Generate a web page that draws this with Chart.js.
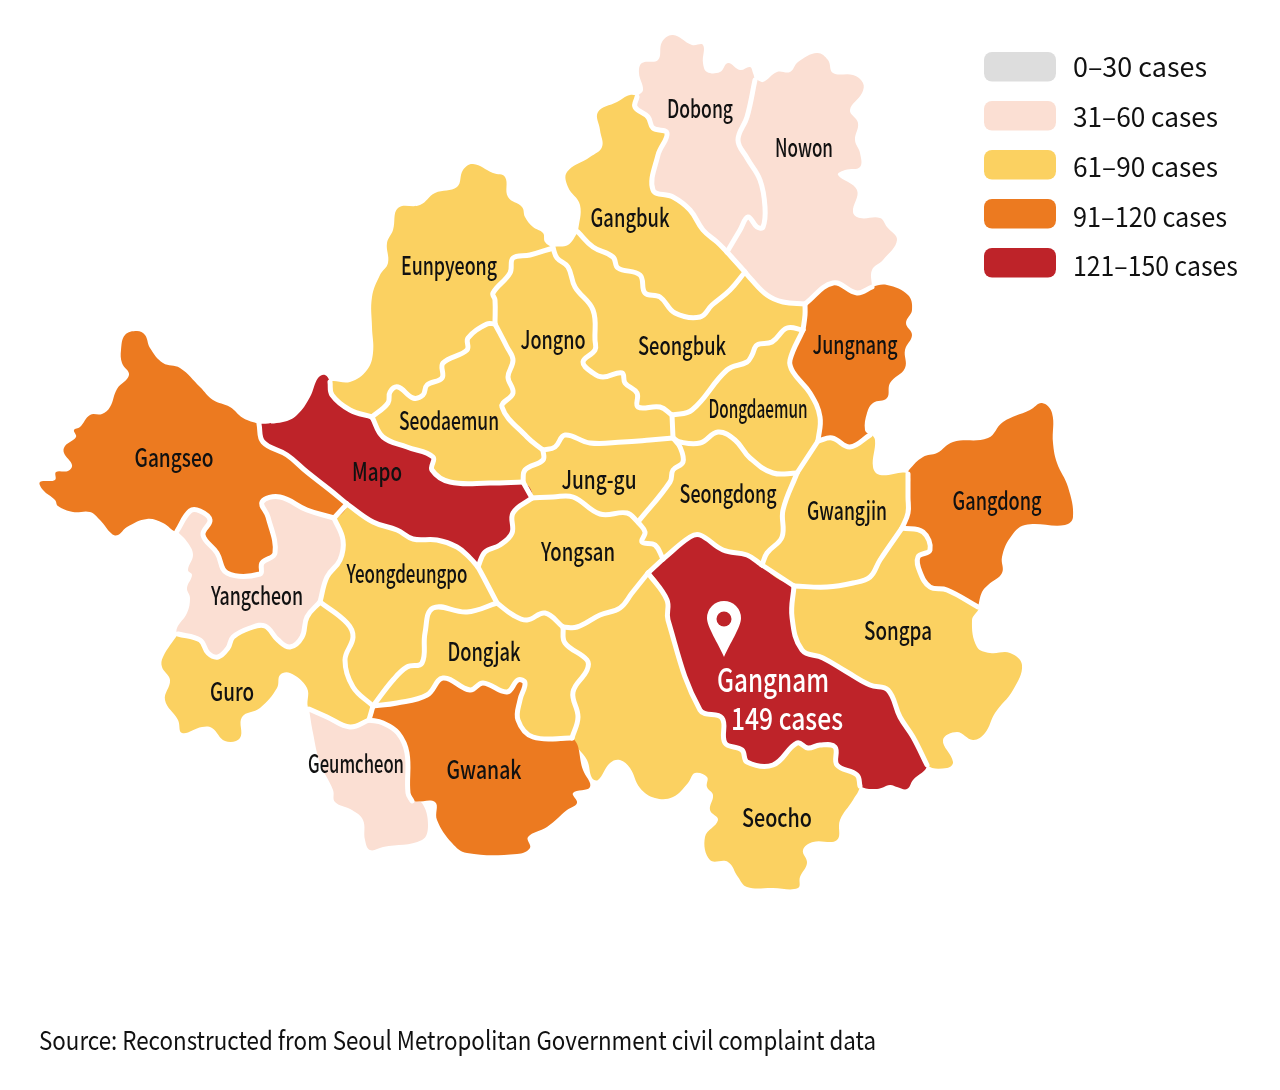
<!DOCTYPE html>
<html>
<head>
<meta charset="utf-8">
<title>Seoul civil complaints by district</title>
<script src="https://cdn.jsdelivr.net/npm/chart.js@4"></script>
<style>
  html, body { margin: 0; padding: 0; background: #fff; }
  canvas { display: block; }
</style>
</head>
<body>
<canvas id="seoulMap" width="1280" height="1090"></canvas>
<script>
// legend bands
const bandLabels = ['0–30 cases', '31–60 cases', '61–90 cases', '91–120 cases', '121–150 cases'];
const bandColors = ['#DDDDDD', '#FBDFD3', '#FBD161', '#EC7A20', '#BE2329'];

// district names and the band each one falls in
const districtNames = ['Dobong', 'Nowon', 'Gangbuk', 'Eunpyeong', 'Jongno', 'Seongbuk', 'Jungnang', 'Seodaemun', 'Dongdaemun', 'Gangseo', 'Mapo', 'Jung-gu', 'Seongdong', 'Gwangjin', 'Gangdong', 'Yongsan', 'Yangcheon', 'Yeongdeungpo', 'Songpa', 'Dongjak', 'Guro', 'Geumcheon', 'Gwanak', 'Seocho', 'Gangnam'];
const districtBands = [1, 1, 2, 2, 2, 2, 3, 2, 2, 3, 4, 2, 2, 2, 3, 2, 1, 2, 2, 2, 2, 1, 3, 2, 4];
const labelX = [700, 804, 630, 449, 553, 682, 855, 449, 758, 174, 377, 599, 728, 847, 997, 578, 257, 407, 898, 484, 232, 356, 484, 777, 773];
const labelY = [108, 147, 217, 265, 339, 345, 344, 420, 408, 457, 471, 479, 493, 510, 500, 551, 595, 573, 630, 651, 691, 763, 769, 817, 679];
const labelW = [66, 58, 79, 96, 65, 88, 85, 100, 99, 79, 50, 75, 97, 80, 89, 74, 92, 121, 68, 73, 44, 96, 75, 70, 112];

const highlightCases = '149 cases';
const sourceText = 'Source: Reconstructed from Seoul Metropolitan Government civil complaint data';

// boundary pieces, each shared by the districts on either side
const gangseoNorth = [[259,424],[243,418],[230,407],[213,400],[200,387],[180,368],[163,363],[150,348],[145,335],[137,331],[125,335],[121,350],[122,363],[129,375],[117,389],[110,407],[102,414],[90,415],[80,427],[74,430],[76,437],[65,446],[64,453],[72,465],[68,471],[56,472],[55,480],[40,482],[43,490],[55,500],[58,506],[73,512],[90,512],[100,520],[112,534],[118,535],[127,527],[147,519],[163,523],[177,531]];
const gangseoYangcheon = [[177,531],[190,511],[200,511],[210,520],[203,535],[217,553],[227,573],[260,574],[262,563],[275,553],[268,517],[262,502],[280,497],[307,510],[334,518]];
const gangseoYeongdeungpo = [[334,518],[347,504]];
const gangseoMapo = [[347,504],[330,490],[307,472],[287,455],[263,442],[259,424]];
const mapoNorth = [[259,424],[283,422],[297,415],[310,397],[318,378],[325,375],[330,382]];
const mapoEunpyeong = [[330,382],[332,395],[350,410],[372,417]];
const mapoSeodaemun = [[372,417],[383,437],[407,447],[433,457],[432,470],[450,482],[490,483],[523,482]];
const mapoJunggu = [[523,482],[532,498]];
const mapoYongsan = [[532,498],[513,513],[512,533],[500,545],[485,552],[478,567]];
const mapoYeongdeungpo = [[478,567],[470,558],[457,547],[437,540],[413,539],[397,530],[373,522],[347,504]];
const yangcheonYeongdeungpo = [[334,518],[343,540],[340,560],[327,577],[320,602]];
const yangcheonGuro = [[320,602],[307,617],[302,637],[290,647],[278,640],[265,626],[250,628],[233,637],[228,648],[218,657],[208,653],[200,640],[178,634]];
const yangcheonWest = [[178,634],[177,628],[187,613],[190,598],[187,588],[192,575],[188,570],[193,555],[188,543],[177,531]];
const guroOuter = [[178,634],[163,657],[162,667],[170,680],[165,700],[178,720],[182,733],[202,727],[212,728],[225,741],[240,738],[242,717],[260,708],[277,688],[280,675],[290,673],[307,688],[309,709]];
const guroGeumcheon = [[309,709],[327,717],[350,727],[369,720]];
const guroGwanak = [[369,720],[373,706]];
const guroYeongdeungpo = [[373,706],[353,687],[345,660],[353,637],[347,623],[320,602]];
const yeongdeungpoDongjak = [[373,706],[393,680],[407,667],[422,663],[425,633],[433,608],[467,612],[497,603]];
const yeongdeungpoYongsan = [[497,603],[485,580],[478,567]];
const dongjakYongsan = [[497,603],[513,615],[527,620],[545,613],[563,627]];
const dongjakSeocho = [[563,627],[565,643],[587,660],[587,670],[573,692],[578,717],[572,738]];
const dongjakGwanak = [[572,738],[533,737],[518,720],[520,700],[525,683],[518,680],[507,692],[483,683],[470,690],[443,678],[427,695],[397,703],[373,706]];
const gwanakGeumcheon = [[369,720],[383,723],[398,733],[407,753],[408,793],[412,801]];
const gwanakOuter = [[412,801],[435,802],[437,820],[452,843],[467,853],[517,854],[530,848],[528,837],[547,827],[567,810],[577,803],[573,793],[590,787],[583,770],[572,738]];
const geumcheonOuter = [[412,801],[422,803],[428,825],[422,840],[383,847],[370,850],[365,840],[363,820],[352,810],[335,802],[333,790],[320,763],[313,733],[309,709]];
const seochoOuter = [[572,738],[587,760],[592,778],[598,780],[610,763],[620,760],[630,768],[640,788],[655,798],[673,797],[688,783],[695,773],[707,777],[707,787],[713,795],[710,810],[718,820],[705,837],[710,860],[728,862],[738,877],[747,887],[773,888],[798,888],[800,877],[807,863],[803,850],[813,842],[837,840],[840,820],[853,800],[860,786]];
const gangnamSeocho = [[860,786],[857,775],[837,765],[835,747],[820,745],[808,748],[797,743],[773,765],[747,762],[742,750],[725,743],[722,718],[700,710],[668,620],[667,600],[648,573]];
const yongsanSeocho = [[563,627],[577,627],[600,615],[620,608],[632,593],[648,573]];
const yongsanGangnam = [[648,573],[663,559]];
const seongdongGangnam = [[663,559],[690,537],[700,535],[723,550],[747,555],[762,565]];
const gwangjinGangnam = [[762,565],[794,586]];
const songpaGangnam = [[794,586],[792,617],[802,650],[823,658],[847,672],[870,685],[888,690],[900,717],[913,737],[927,765]];
const gangnamOuter = [[927,765],[913,780],[907,789],[897,787],[890,785],[877,789],[860,786]];
const gwangjinSongpa = [[794,586],[827,587],[853,583],[870,577],[880,560],[902,528]];
const songpaGangdong = [[902,528],[923,532],[930,550],[918,557],[920,572],[930,587],[947,590],[978,607]];
const songpaOuter = [[978,607],[972,620],[977,647],[990,653],[1010,653],[1022,665],[1013,690],[995,713],[985,733],[973,740],[957,732],[943,740],[953,762],[947,768],[927,765]];
const gangdongOuter = [[978,607],[982,592],[988,585],[1002,573],[1002,557],[1010,538],[1025,525],[1065,525],[1073,517],[1068,487],[1057,463],[1053,443],[1052,413],[1042,403],[1030,410],[1003,422],[988,438],[953,442],[937,453],[923,457],[909,470],[908,474]];
const gangdongGwangjin = [[908,474],[908,497],[908,513],[902,528]];
const gwangjinOuter = [[908,474],[880,475],[873,467],[875,440],[870,435]];
const gwangjinJungnang = [[870,435],[850,447],[832,438],[818,441]];
const jungnangOuter = [[870,435],[865,430],[867,413],[873,403],[887,398],[890,383],[905,368],[905,350],[912,335],[906,323],[912,310],[908,295],[887,285],[872,287]];
const jungnangNowon = [[872,287],[857,293],[833,283],[805,304]];
const jungnangSeongbuk = [[805,304],[805,315],[803,330]];
const jungnangDongdaemun = [[803,330],[790,360],[793,372],[810,393],[820,417],[818,441]];
const dongdaemunGwangjin = [[818,441],[797,473]];
const seongdongGwangjin = [[797,473],[783,510],[782,537],[767,553],[762,565]];
const dongdaemunSeongdong = [[673,438],[680,442],[700,443],[718,432],[735,440],[750,458],[773,473],[797,473]];
const seongbukDongdaemun = [[672,415],[692,410],[727,370],[747,362],[752,355],[757,345],[772,342],[787,328],[803,330]];
const jongnoDongdaemun = [[672,415],[673,438]];
const jongnoSeongbuk = [[553,248],[557,258],[568,267],[575,287],[593,310],[595,340],[595,350],[583,362],[593,373],[603,377],[622,373],[625,383],[637,393],[638,407],[660,407],[672,415]];
const seongbukNowon = [[745,272],[750,278],[767,295],[783,302],[805,304]];
const gangbukNowon = [[727,252],[745,272]];
const gangbukSeongbuk = [[578,232],[593,247],[613,257],[618,268],[640,275],[645,293],[660,297],[675,313],[700,317],[712,305],[730,290],[745,272]];
const seongbukWest = [[578,232],[568,245],[553,248]];
const eunpyeongOuter = [[553,248],[545,242],[543,233],[533,227],[525,217],[522,207],[508,197],[505,177],[493,173],[473,164],[463,170],[457,187],[435,193],[420,205],[398,208],[393,230],[387,243],[388,263],[380,275],[372,297],[372,327],[373,353],[367,370],[350,382],[330,382]];
const eunpyeongJongno = [[495,324],[495,300],[493,293],[510,273],[513,258],[530,255],[553,248]];
const eunpyeongSeodaemun = [[372,417],[388,403],[390,392],[398,387],[413,398],[423,395],[427,385],[442,378],[443,363],[467,350],[468,338],[487,324],[495,324]];
const jongnoSeodaemun = [[495,324],[507,347],[513,360],[508,377],[513,393],[502,407],[527,437],[543,450]];
const jongnoJunggu = [[673,438],[650,440],[623,442],[590,443],[565,435],[555,447],[543,450]];
const seodaemunJunggu = [[543,450],[543,460],[525,470],[523,482]];
const jungguYongsan = [[532,498],[553,497],[573,497],[600,514],[627,513],[638,522]];
const jungguSeongdong = [[638,522],[670,482],[673,470],[683,462],[680,447],[673,438]];
const yongsanSeongdong = [[638,522],[645,532],[642,542],[655,545],[663,559]];
const gangbukOuter = [[637,97],[630,95],[617,102],[598,112],[600,130],[602,147],[590,157],[567,172],[568,187],[580,205],[578,232]];
const dobongGangbuk = [[637,97],[635,107],[648,117],[653,128],[667,133],[658,155],[653,190],[673,197],[690,210],[703,230],[717,242],[727,252]];
const dobongOuter = [[755,80],[753,73],[750,67],[740,70],[728,63],[720,72],[707,72],[703,63],[703,45],[692,45],[673,35],[662,42],[658,60],[642,63],[639,73],[643,90],[637,97]];
const dobongNowon = [[755,80],[747,117],[738,140],[747,158],[760,180],[765,207],[763,227],[757,227],[748,217],[740,230],[727,252]];
const nowonOuter = [[872,287],[872,270],[883,260],[897,240],[887,227],[880,218],[860,218],[853,212],[857,190],[838,175],[845,170],[860,167],[860,153],[855,140],[858,123],[850,110],[862,93],[863,83],[853,75],[833,73],[828,60],[817,53],[798,62],[790,72],[777,72],[763,82],[755,80]];

const rev = arc => arc.slice().reverse();

const toPoints = arc => arc.map(p => ({ x: p[0], y: p[1] }));

// walk the pieces of one district into a closed outline
function ring(...arcs) {
    const points = [];
    arcs.forEach(arc => {
        arc.forEach((p, i) => {
            if (i > 0 || points.length === 0) points.push({ x: p[0], y: p[1] });
        });
    });
    return points;
}

const outlines = {
    Dobong: ring(dobongOuter, dobongGangbuk, rev(dobongNowon)),
    Nowon: ring(nowonOuter, dobongNowon, gangbukNowon, seongbukNowon, rev(jungnangNowon)),
    Gangbuk: ring(gangbukSeongbuk, rev(gangbukNowon), rev(dobongGangbuk), gangbukOuter),
    Eunpyeong: ring(eunpyeongOuter, mapoEunpyeong, eunpyeongSeodaemun, eunpyeongJongno),
    Jongno: ring(rev(eunpyeongJongno), jongnoSeodaemun, rev(jongnoJunggu), rev(jongnoDongdaemun), rev(jongnoSeongbuk)),
    Seongbuk: ring(seongbukWest, jongnoSeongbuk, seongbukDongdaemun, rev(jungnangSeongbuk), rev(seongbukNowon), rev(gangbukSeongbuk)),
    Jungnang: ring(jungnangOuter, jungnangNowon, jungnangSeongbuk, jungnangDongdaemun, rev(gwangjinJungnang)),
    Seodaemun: ring(eunpyeongSeodaemun, jongnoSeodaemun, seodaemunJunggu, rev(mapoSeodaemun)),
    Dongdaemun: ring(seongbukDongdaemun, jungnangDongdaemun, dongdaemunGwangjin, rev(dongdaemunSeongdong), rev(jongnoDongdaemun)),
    Gangseo: ring(gangseoNorth, gangseoYangcheon, gangseoYeongdeungpo, gangseoMapo),
    Mapo: ring(mapoNorth, mapoEunpyeong, mapoSeodaemun, mapoJunggu, mapoYongsan, mapoYeongdeungpo, gangseoMapo),
    'Jung-gu': ring(jungguSeongdong, jongnoJunggu, seodaemunJunggu, mapoJunggu, jungguYongsan),
    Seongdong: ring(dongdaemunSeongdong, seongdongGwangjin, rev(seongdongGangnam), rev(yongsanSeongdong), jungguSeongdong),
    Gwangjin: ring(seongdongGwangjin, gwangjinGangnam, gwangjinSongpa, rev(gangdongGwangjin), gwangjinOuter, gwangjinJungnang, dongdaemunGwangjin),
    Gangdong: ring(rev(songpaGangdong), rev(gangdongGwangjin), rev(gangdongOuter)),
    Yongsan: ring(jungguYongsan, yongsanSeongdong, rev(yongsanGangnam), rev(yongsanSeocho), rev(dongjakYongsan), yeongdeungpoYongsan, rev(mapoYongsan)),
    Yangcheon: ring(gangseoYangcheon, yangcheonYeongdeungpo, yangcheonGuro, yangcheonWest),
    Yeongdeungpo: ring(gangseoYeongdeungpo, rev(mapoYeongdeungpo), rev(yeongdeungpoYongsan), rev(yeongdeungpoDongjak), guroYeongdeungpo, rev(yangcheonYeongdeungpo)),
    Songpa: ring(gwangjinSongpa, songpaGangdong, songpaOuter, rev(songpaGangnam)),
    Dongjak: ring(yeongdeungpoDongjak, dongjakYongsan, dongjakSeocho, dongjakGwanak),
    Guro: ring(guroOuter, guroGeumcheon, guroGwanak, guroYeongdeungpo, yangcheonGuro),
    Geumcheon: ring(guroGeumcheon, gwanakGeumcheon, geumcheonOuter),
    Gwanak: ring(guroGwanak, rev(dongjakGwanak), rev(gwanakOuter), rev(gwanakGeumcheon)),
    Seocho: ring(yongsanSeocho, rev(gangnamSeocho), rev(seochoOuter), rev(dongjakSeocho)),
    Gangnam: ring(yongsanGangnam, seongdongGangnam, gwangjinGangnam, songpaGangnam, gangnamOuter, gangnamSeocho)
};

// only the pieces between two districts get a white line
const innerBorders = [gangseoYangcheon, gangseoYeongdeungpo, gangseoMapo, mapoEunpyeong, mapoSeodaemun, mapoJunggu, mapoYongsan, mapoYeongdeungpo, yangcheonYeongdeungpo, yangcheonGuro, guroGeumcheon, guroGwanak, guroYeongdeungpo, yeongdeungpoDongjak, yeongdeungpoYongsan, dongjakYongsan, dongjakSeocho, dongjakGwanak, gwanakGeumcheon, gangnamSeocho, yongsanSeocho, yongsanGangnam, seongdongGangnam, gwangjinGangnam, songpaGangnam, gwangjinSongpa, songpaGangdong, gangdongGwangjin, gwangjinJungnang, jungnangNowon, jungnangSeongbuk, jungnangDongdaemun, dongdaemunGwangjin, seongdongGwangjin, dongdaemunSeongdong, seongbukDongdaemun, jongnoDongdaemun, jongnoSeongbuk, seongbukNowon, gangbukNowon, gangbukSeongbuk, eunpyeongJongno, eunpyeongSeodaemun, jongnoSeodaemun, jongnoJunggu, seodaemunJunggu, jungguYongsan, jungguSeongdong, yongsanSeongdong, dobongGangbuk, dobongNowon];

const FONT = '"Noto Sans CJK KR", "Noto Sans", sans-serif';

// district names, pin, legend and source line
const mapText = {
    id: 'mapText',
    afterDatasetsDraw(chart) {
        const ctx = chart.ctx;
        const sx = chart.scales.x;
        const sy = chart.scales.y;
        ctx.save();
        ctx.textBaseline = 'middle';

        ctx.textAlign = 'center';
        districtNames.forEach((name, i) => {
            const hot = name === 'Gangnam';
            ctx.fillStyle = hot ? '#FFFFFF' : '#111111';
            ctx.font = (hot ? '500 33px ' : '500 25px ') + FONT;
            ctx.fillText(name, sx.getPixelForValue(labelX[i]), sy.getPixelForValue(labelY[i]), labelW[i]);
        });
        ctx.fillStyle = '#FFFFFF';
        ctx.font = '500 31px ' + FONT;
        ctx.fillText(highlightCases, sx.getPixelForValue(787), sy.getPixelForValue(718), 112);

        // location pin over Gangnam
        const px = sx.getPixelForValue(724);
        const py = sy.getPixelForValue(619);
        ctx.fillStyle = '#FFFFFF';
        ctx.beginPath();
        ctx.moveTo(px, py + 38);
        ctx.bezierCurveTo(px - 6, py + 24, px - 17, py + 8, px - 17, py - 1);
        ctx.arc(px, py - 1, 17, Math.PI, 0);
        ctx.bezierCurveTo(px + 17, py + 8, px + 6, py + 24, px, py + 38);
        ctx.fill();
        ctx.fillStyle = bandColors[4];
        ctx.beginPath();
        ctx.arc(px, py, 7.5, 0, Math.PI * 2);
        ctx.fill();

        // legend
        const legendWidths = [134, 145, 145, 154, 165];
        bandLabels.forEach((label, i) => {
            ctx.fillStyle = bandColors[i];
            ctx.beginPath();
            ctx.roundRect(984, 52 + i * 49, 72, 29.5, 8);
            ctx.fill();
            ctx.fillStyle = '#111111';
            ctx.textAlign = 'left';
            ctx.font = '400 27px ' + FONT;
            ctx.fillText(label, 1073, 67 + i * 49.75, legendWidths[i]);
        });

        ctx.fillStyle = '#111111';
        ctx.textAlign = 'left';
        ctx.font = '400 26px ' + FONT;
        ctx.fillText(sourceText, 39, 1040, 837);
        ctx.restore();
    }
};

const fillSets = districtNames.map((name, i) => ({
    label: name,
    data: outlines[name],
    showLine: true,
    fill: 'shape',
    backgroundColor: bandColors[districtBands[i]],
    borderWidth: 0,
    pointRadius: 0,
    pointHoverRadius: 0,
    tension: 0.4
}));

const borderSets = innerBorders.map(arc => ({
    data: toPoints(arc),
    showLine: true,
    fill: false,
    borderColor: '#FFFFFF',
    borderWidth: 5,
    borderCapStyle: 'round',
    borderJoinStyle: 'round',
    pointRadius: 0,
    pointHoverRadius: 0,
    tension: 0.4
}));

new Chart(document.getElementById('seoulMap').getContext('2d'), {
    type: 'scatter',
    data: { datasets: fillSets.concat(borderSets) },
    options: {
        responsive: false,
        animation: false,
        events: [],
        layout: { padding: 0 },
        scales: {
            x: { type: 'linear', display: false, min: 0, max: 1280 },
            y: { type: 'linear', display: false, min: 0, max: 1090, reverse: true }
        },
        plugins: {
            legend: { display: false },
            tooltip: { enabled: false },
            title: { display: false },
            filler: { drawTime: 'beforeDatasetsDraw', propagate: false }
        }
    },
    plugins: [mapText]
});
</script>
</body>
</html>
